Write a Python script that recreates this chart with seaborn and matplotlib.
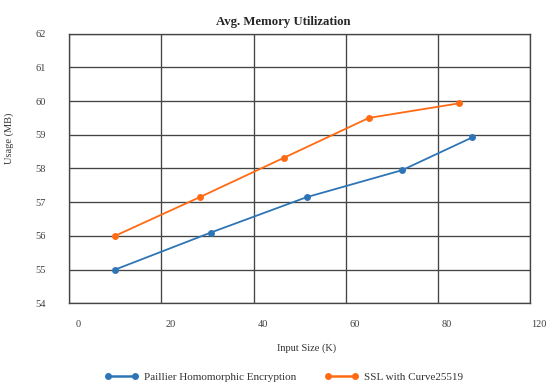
import numpy as np
import matplotlib
matplotlib.use("Agg")
import matplotlib.pyplot as plt
import matplotlib.transforms as mtransforms
import pandas as pd
import seaborn as sns

# data (x in gridline units, y in MB)
series_names = ["Paillier Homomorphic Encryption", "SSL with Curve25519"]
paillier_x = [9.9, 30.7, 51.5, 72.2, 87.4]
paillier_y = [55.0, 56.1, 57.15, 57.95, 58.92]
ssl_x = [9.9, 28.3, 46.6, 65.0, 84.5]
ssl_y = [56.0, 57.15, 58.32, 59.5, 59.93]

x_ticks = [0, 20, 40, 60, 80, 100]
x_tick_labels = ["0", "20", "40", "60", "80", "120"]
y_ticks = [54, 55, 56, 57, 58, 59, 60, 61, 62]

colors = ["#2E75B6", "#FF6A13"]

df = pd.DataFrame({
    "Input Size (K)": paillier_x + ssl_x,
    "Usage (MB)": paillier_y + ssl_y,
    "Series": [series_names[0]] * len(paillier_x) + [series_names[1]] * len(ssl_x),
})

sns.set_style("white")
plt.rcParams["font.family"] = ["Liberation Serif", "DejaVu Serif"]

fig = plt.figure(figsize=(5.5, 3.86), dpi=100)
ax = fig.add_axes([0.126, 0.214, 0.838, 0.699])

sns.lineplot(data=df, x="Input Size (K)", y="Usage (MB)", hue="Series",
             palette=colors, marker="o", markersize=5, markeredgewidth=0,
             linewidth=1.3, sort=False, ax=ax, legend=False)

ax.set_xlim(0, 100)
ax.set_ylim(54, 62)
ax.set_xticks(x_ticks)
ax.set_xticklabels(x_tick_labels)
ax.set_yticks(y_ticks)
ax.tick_params(axis="both", length=0, labelsize=7.5, labelcolor="#404040")
ax.tick_params(axis="x", pad=12)
ax.tick_params(axis="y", pad=17)

# labels in the reference sit a little right of their gridlines
offset = mtransforms.ScaledTranslation(9 / 100, 0, fig.dpi_scale_trans)
for lbl in ax.get_xticklabels():
    lbl.set_transform(lbl.get_transform() + offset)

ax.grid(True, color="#444444", linewidth=0.95)
for s in ax.spines.values():
    s.set_color("#444444")
    s.set_linewidth(0.95)

ax.set_xlabel("Input Size (K)", fontsize=7.5, color="#333333")
ax.xaxis.label.set_va("center")
ax.xaxis.set_label_coords(0.514, -0.166)
ax.set_ylabel("Usage (MB)", fontsize=7.5, color="#333333")
ax.yaxis.label.set_va("center")
ax.yaxis.set_label_coords(-0.131, 0.613)

ax.set_title("Avg. Memory Utilization", fontsize=9.2, weight="bold")
ax.title.set_position((0.465, 1.06))

handles = [plt.Line2D([], [], color=c, marker="o", markersize=5,
                      markeredgewidth=0, linewidth=1.8) for c in colors]
fig.legend(handles, series_names, loc="center", bbox_to_anchor=(0.516, 0.024),
           ncol=2, frameon=False, fontsize=8, handlelength=3.0, numpoints=2,
           handletextpad=0.5, columnspacing=2.6, labelcolor="#333333")

fig.savefig("out.png", dpi=100)
